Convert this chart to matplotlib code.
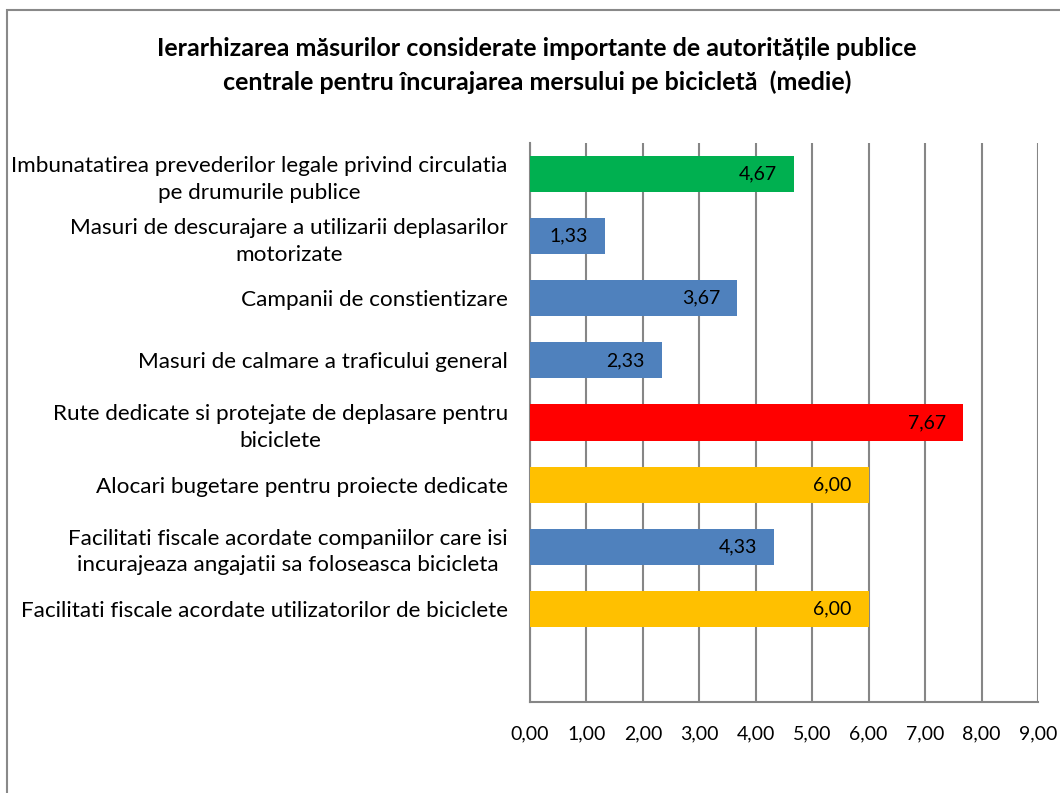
import matplotlib
matplotlib.use("Agg")
import matplotlib.pyplot as plt
from matplotlib.patches import Rectangle

categories = [
    "Imbunatatirea prevederilor legale privind circulatia\npe drumurile publice",
    "Masuri de descurajare a utilizarii deplasarilor\nmotorizate",
    "Campanii de constientizare",
    "Masuri de calmare a traficului general",
    "Rute dedicate si protejate de deplasare pentru\nbiciclete",
    "Alocari bugetare pentru proiecte dedicate",
    "Facilitati fiscale acordate companiilor care isi\nincurajeaza angajatii sa foloseasca bicicleta",
    "Facilitati fiscale acordate utilizatorilor de biciclete",
]
values = [4.67, 1.33, 3.67, 2.33, 7.67, 6.00, 4.33, 6.00]
colors = ["#00B050", "#4F81BD", "#4F81BD", "#4F81BD", "#FF0000", "#FFC000", "#4F81BD", "#FFC000"]
xticks = [0, 1, 2, 3, 4, 5, 6, 7, 8, 9]
title = "Ierarhizarea măsurilor considerate importante de autoritățile publice\ncentrale pentru încurajarea mersului pe bicicletă  (medie)"

plt.rcParams['font.family'] = ['Lato', 'DejaVu Sans']

W, H = 1060, 793
fig = plt.figure(figsize=(W / 100, H / 100), dpi=100)
fig.patches.append(Rectangle((7 / W, -0.1), 1.2, 1 - 10 / H + 0.1, transform=fig.transFigure,
                             fill=False, edgecolor="#898989", linewidth=1.5))

left, right, top, bottom = 530, 1038, 143, 702
ax = fig.add_axes([left / W, 1 - bottom / H, (right - left) / W, (bottom - top) / H])

ypos = list(range(len(values)))
ax.barh(ypos, values, height=0.58, color=colors, zorder=3)
for y, v in zip(ypos, values):
    ax.text(v - 0.3, y, f"{v:.2f}".replace(".", ","), ha="right", va="center",
            fontsize=14, color="black", zorder=4)

ax.set_xlim(0, 9)
ax.set_ylim(len(values) + 0.5, -0.5)
ax.set_xticks(xticks)
ax.set_xticklabels([f"{t:.2f}".replace(".", ",") for t in xticks], fontsize=14)
ax.set_yticks(ypos)
ax.set_yticklabels(categories, fontsize=16.2, multialignment="center", linespacing=1.42)
ax.tick_params(axis="both", length=0)
ax.tick_params(axis="x", pad=17)
ax.tick_params(axis="y", pad=16)
ax.grid(axis="x", color="#868686", linewidth=1.5, zorder=0)
for s in ["top", "right"]:
    ax.spines[s].set_visible(False)
for s in ["left", "bottom"]:
    ax.spines[s].set_color("#868686")
    ax.spines[s].set_linewidth(1.5)

fig.text(537 / W, 1 - 65.5 / H, title, ha="center", va="center", fontsize=18,
         fontweight="bold", linespacing=1.55)

fig.savefig("out.png", dpi=100)
